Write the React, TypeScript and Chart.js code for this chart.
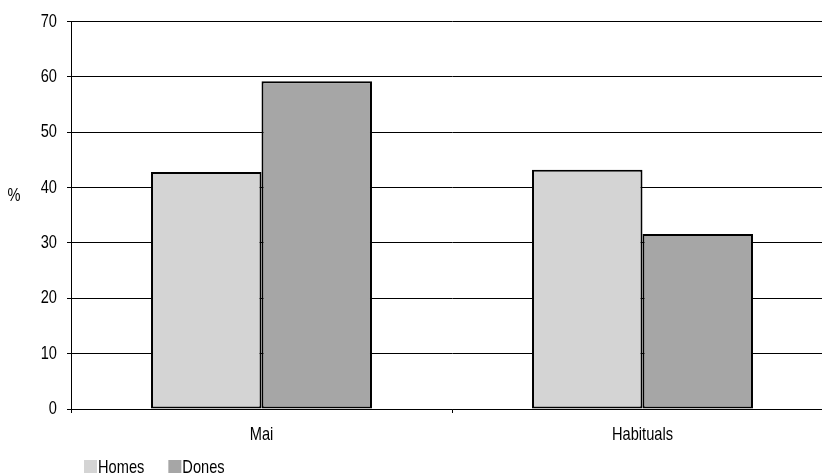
import React, { useEffect, useRef } from "react";
import { Chart, registerables } from "chart.js";

Chart.register(...registerables);

const categories = ["Mai", "Habituals"];
const seriesNames = ["Homes", "Dones"];
const homesValues = [42.8, 43.2];
const donesValues = [59.2, 31.6];
const seriesColors = ["#d4d4d4", "#a6a6a6"];
const yTitle = "%";

const FONT_FAMILY = "'Liberation Sans', Arial, sans-serif";
const FONT_SIZE = 19;
const NARROW = 0.77;

const extrasPlugin = {
  id: "extras",
  afterDraw(chart: any) {
    const ctx = chart.ctx;
    ctx.save();
    ctx.font = `${FONT_SIZE}px ${FONT_FAMILY}`;
    ctx.fillStyle = "#000";
    ctx.textBaseline = "middle";
    ctx.textAlign = "center";
    ctx.fillText(yTitle, 14, 196);
    // legend
    ctx.textAlign = "left";
    let x = 84;
    const boxTop = 460;
    const boxSize = 13;
    seriesNames.forEach((name, i) => {
      ctx.fillStyle = seriesColors[i];
      ctx.fillRect(x, boxTop, boxSize, boxSize);
      ctx.fillStyle = "#000";
      ctx.fillText(name, x + boxSize + 1, boxTop + boxSize / 2 + 1);
      x += boxSize + 1 + ctx.measureText(name).width * NARROW + 24;
    });
    ctx.restore();
  },
};

export default function App() {
  const ref = useRef<HTMLCanvasElement>(null);
  useEffect(() => {
    document.body.style.margin = "0";
    document.body.style.overflow = "hidden";
    document.documentElement.style.overflow = "hidden";
    const canvas = ref.current!;
    const ctx: any = canvas.getContext("2d");
    // narrow (condensed) rendering of all text, like Arial Narrow
    const origFill = ctx.fillText.bind(ctx);
    ctx.fillText = (t: string, x: number, y: number) => {
      ctx.save();
      ctx.translate(x, y);
      ctx.scale(NARROW, 1);
      origFill(t, 0, 0);
      ctx.restore();
    };
    const chart = new Chart(canvas, {
      type: "bar",
      data: {
        labels: categories,
        datasets: [
          {
            label: seriesNames[0],
            data: homesValues,
            backgroundColor: seriesColors[0],
            borderColor: "#000",
            borderWidth: 2,
            borderSkipped: false,
          },
          {
            label: seriesNames[1],
            data: donesValues,
            backgroundColor: seriesColors[1],
            borderColor: "#000",
            borderWidth: 2,
            borderSkipped: false,
          },
        ],
      },
      options: {
        animation: false,
        responsive: false,
        devicePixelRatio: 1,
        layout: { padding: { top: 20, right: 7, bottom: 26, left: 0 } },
        datasets: {
          bar: { categoryPercentage: 0.58, barPercentage: 1 },
        },
        plugins: {
          legend: { display: false },
          tooltip: { enabled: false },
        },
        scales: {
          x: {
            offset: true,
            grid: {
              display: true,
              drawOnChartArea: false,
              drawTicks: true,
              tickLength: 4,
              color: "#000",
              offset: true,
            },
            border: { display: true, color: "#000", width: 1 },
            ticks: {
              color: "#000",
              padding: 10,
              font: { family: FONT_FAMILY, size: FONT_SIZE },
            },
            afterFit: (s: any) => {
              s.height = 40;
            },
          },
          y: {
            min: 0,
            max: 70,
            ticks: {
              stepSize: 10,
              color: "#000",
              padding: 10,
              font: { family: FONT_FAMILY, size: FONT_SIZE },
            },
            grid: { color: "#000", lineWidth: 1, tickLength: 4 },
            border: { display: true, color: "#000", width: 1 },
            afterFit: (s: any) => {
              s.width = 71;
            },
          },
        },
      },
      plugins: [extrasPlugin],
    });
    return () => chart.destroy();
  }, []);
  return (
    <div style={{ width: 840, height: 475 }}>
      <canvas ref={ref} width={840} height={475} style={{ width: 840, height: 475 }} />
    </div>
  );
}
